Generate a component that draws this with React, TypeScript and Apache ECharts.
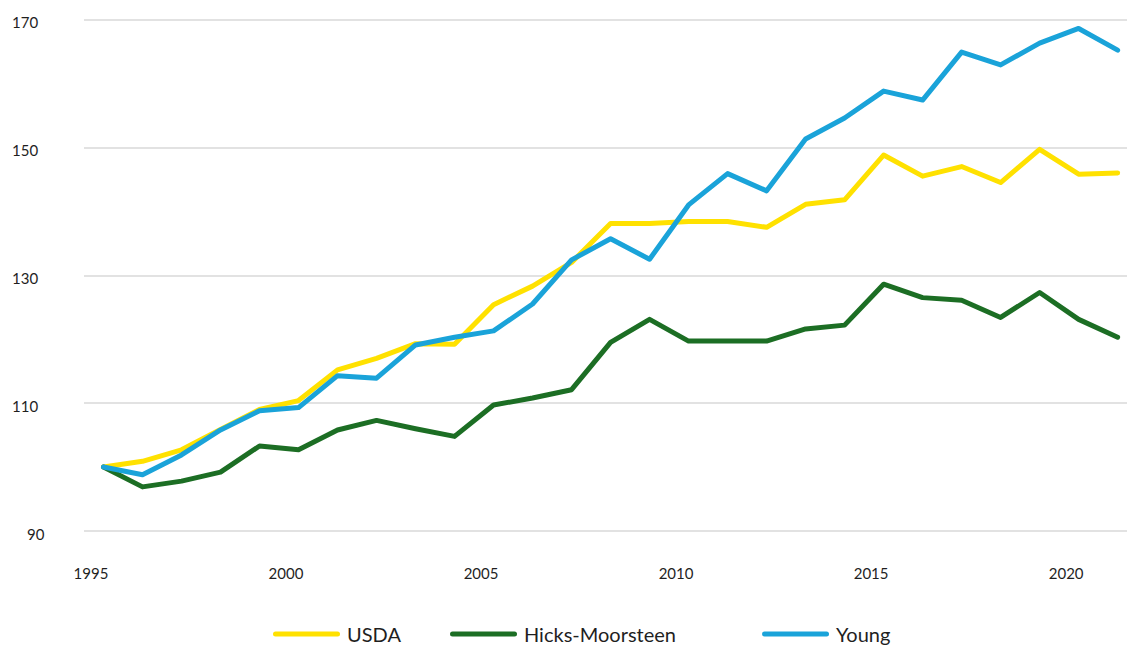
import React, { useEffect, useRef } from "react";
import * as echarts from "echarts";

const years: number[] = [
  1995, 1996, 1997, 1998, 1999, 2000, 2001, 2002, 2003, 2004, 2005, 2006, 2007, 2008,
  2009, 2010, 2011, 2012, 2013, 2014, 2015, 2016, 2017, 2018, 2019, 2020, 2021,
];
const usda: number[] = [
  100, 100.9, 102.7, 105.9, 109.0, 110.4, 115.2, 117.0, 119.3, 119.2, 125.4, 128.3, 132.0, 138.1,
  138.1, 138.4, 138.4, 137.5, 141.1, 141.8, 148.8, 145.5, 147.0, 144.5, 149.7, 145.8, 146.0,
];
const hicksMoorsteen: number[] = [
  100, 96.9, 97.8, 99.2, 103.3, 102.7, 105.8, 107.3, 106.0, 104.8, 109.7, 110.8, 112.1, 119.5,
  123.1, 119.7, 119.7, 119.7, 121.6, 122.2, 128.6, 126.5, 126.1, 123.4, 127.3, 123.1, 120.3,
];
const young: number[] = [
  100, 98.8, 101.9, 105.8, 108.8, 109.3, 114.3, 113.9, 119.1, 120.3, 121.3, 125.5, 132.4, 135.7,
  132.5, 141.0, 145.9, 143.2, 151.3, 154.6, 158.8, 157.4, 164.9, 162.9, 166.3, 168.6, 165.2,
];
const xTickYears: number[] = [1995, 2000, 2005, 2010, 2015, 2020];
const seriesNames: string[] = ["USDA", "Hicks-Moorsteen", "Young"];
const seriesColors: string[] = ["#FFE100", "#1C6E24", "#1AA3D9"];
const seriesValues: number[][] = [usda, hicksMoorsteen, young];
const legendLefts: number[] = [273, 450, 762];

const FONT = "Lato, 'Open Sans', sans-serif";
const TEXT = "#1f1f1f";
const pill = "path://M2.5,0 H64.5 A2.5,2.5 0 0 1 64.5,5 H2.5 A2.5,2.5 0 0 1 2.5,0 Z";

export default function App() {
  const ref = useRef<HTMLDivElement>(null);
  useEffect(() => {
    if (!ref.current) return;
    const chart = echarts.init(ref.current, null, { renderer: "svg" });
    chart.setOption({
      animation: false,
      backgroundColor: "#ffffff",
      textStyle: { fontFamily: FONT },
      grid: { left: 84, right: 0, top: 19.5, bottom: 115, containLabel: false },
      legend: seriesNames.map((name, i) => ({
        data: [name],
        left: legendLefts[i],
        top: 624,
        itemWidth: 67,
        itemHeight: 5,
        itemGap: 0,
        icon: pill,
        padding: 0,
        textStyle: { fontFamily: FONT, fontSize: 20, color: TEXT, padding: [0, 0, 0, 2] },
      })),
      xAxis: {
        type: "value",
        min: 1994.5,
        max: 2021.24,
        axisLine: { show: false },
        axisTick: { show: false },
        splitLine: { show: false },
        axisLabel: {
          customValues: xTickYears,
          formatter: (v: number) => String(v),
          fontFamily: FONT,
          fontSize: 15,
          color: TEXT,
          margin: 34,
          padding: [0, 25, 0, 0],
        },
      },
      yAxis: {
        type: "value",
        min: 90,
        max: 170,
        interval: 20,
        axisLine: { show: false },
        axisTick: { show: false },
        splitLine: { show: true, lineStyle: { color: "#d9d9d9", width: 1.5 } },
        axisLabel: {
          align: "left",
          margin: 72,
          fontFamily: FONT,
          fontSize: 15,
          color: TEXT,
          padding: [5, 0, 0, 0],
          formatter: (v: number) => (v < 100 ? `{s|${v}}` : `${v}`),
          rich: {
            s: { fontFamily: FONT, fontSize: 15, color: TEXT, padding: [0, 0, 0, 15] },
          },
        },
      },
      series: seriesNames.map((name, i) => ({
        name,
        type: "line",
        data: years.map((y, j) => [y, seriesValues[i][j]]),
        showSymbol: false,
        symbol: "none",
        color: seriesColors[i],
        lineStyle: { width: 5, color: seriesColors[i], cap: "round", join: "round" },
        z: 2 + i,
      })),
    });
    return () => chart.dispose();
  }, []);
  return (
    <div
      ref={ref}
      style={{ position: "absolute", left: 0, top: 0, width: 1127, height: 646 }}
    />
  );
}
